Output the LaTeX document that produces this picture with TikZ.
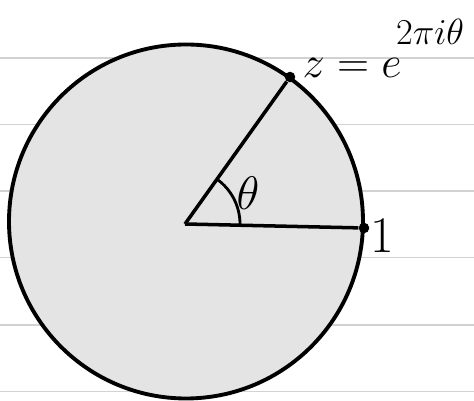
\documentclass[tikz,border=0pt]{standalone}
\usepackage{amsmath,amssymb}
\usepackage{tikz}
\usetikzlibrary{arrows.meta, positioning}
\usepackage{xcolor}
\definecolor{diskgray}{HTML}{E4E4E4}
\definecolor{rulegray}{HTML}{D2D2D2}

\begin{document}
\begin{tikzpicture}[
		x=0.02cm, y=0.02cm,
		ruleline/.style={
			rulegray,
			line width=1.1pt
		},
		disk/.style={
			fill=diskgray,
			draw=black,
			line width=2.2pt
		},
		radius/.style={
			line width=2pt
		},
		dot/.style={
			circle,
			fill=black,
			inner sep=0pt,
			minimum size=6pt
		},
		lbl/.style={
			inner sep=1pt,
			font=\huge
		}
		]
		
		\useasboundingbox (0,0) rectangle (474,401);
		
		% ruled paper
		\foreach \yy in {343,276.5,210,143.5,76,9.5}
		\draw[ruleline] (0,\yy) -- (474,\yy);
		
		% unit disk
		\draw[disk] (186,179.5) circle (177);
		
		% points
		\coordinate (o) at (185,177);
		\node[dot] (z) at (290,324) {};
		\node[dot] (one) at (364,173) {};
		
		%--
		\draw[radius] (o) -- (z);
		\draw[radius] (o) -- (one);
		\draw[line width=1.6pt] ([shift={(0:55)}]o) arc (0:54:55);
		
		% labels
		\node[lbl, scale=1.22, anchor=base west] (zlabel) at (300,323) {$z=e$};
		\node[lbl, scale=1.0, anchor=base west] (zexp) at (394,356) {$2\pi i\theta$};
		\node[lbl, scale=1.41, anchor=base west] (onelabel) at (368,148) {$1$};
		\node[lbl, scale=1.29, anchor=base] (theta) at (248,191) {$\theta$};
		
	\end{tikzpicture}
\end{document}
